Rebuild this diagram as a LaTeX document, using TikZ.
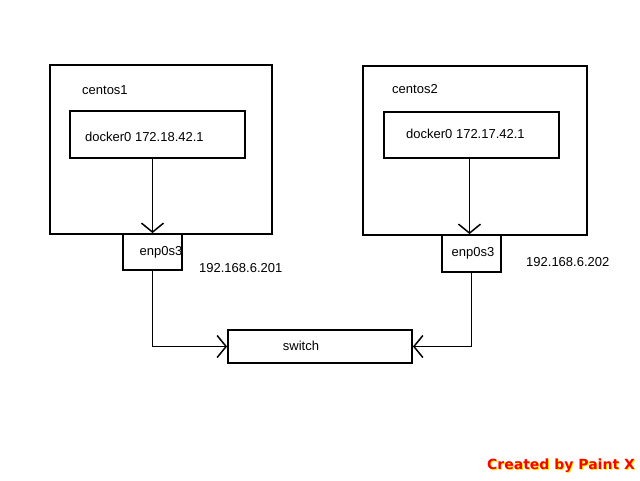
\documentclass[tikz,border=0pt]{standalone}
\usepackage{fontspec}
\setmainfont{Liberation Sans}
\newfontfamily\paintfont{DejaVu Sans}
\usetikzlibrary{arrows.meta,positioning}
\tikzset{>={Straight Barb[length=9pt,width=22pt,line width=1.5pt]}}
\tikzset{box/.style={draw,line width=1.8pt,inner sep=0pt},
  lbl/.style={inner sep=0pt,font=\fontsize{13}{15}\selectfont},
  wire/.style={line width=1.8pt}}

\begin{document}
\begin{tikzpicture}[x=1pt,y=-1pt]
\useasboundingbox (0,0) rectangle (640,480);
% hosts
\node[box,minimum width=222pt,minimum height=169pt] (centos1) at (161,149.5) {};
\node[box,minimum width=224pt,minimum height=169pt] (centos2) at (475,150.5) {};
\node[lbl,anchor=west] (name1) at (82,90) {centos1};
\node[lbl,anchor=west] (name2) at (392,89) {centos2};
% bridges
\node[box,minimum width=175pt,minimum height=47pt] (dock1) at (157.5,134.5) {};
\node[box,minimum width=175pt,minimum height=46pt] (dock2) at (471.5,135) {};
\node[lbl,anchor=west] (dtext1) at (85,137) {docker0 172.18.42.1};
\node[lbl,anchor=west] (dtext2) at (406,134) {docker0 172.17.42.1};
% nics
\node[box,minimum width=59pt,minimum height=36pt] (enp1) at (152.5,252) {};
\node[box,minimum width=59pt,minimum height=37pt] (enp2) at (471.5,253.5) {};
\node[lbl] (etext1) at (161,252) {enp0s3};
\node[lbl] (etext2) at (473,253) {enp0s3};
\node[lbl,anchor=west] (ip1) at (199,268) {192.168.6.201};
\node[lbl,anchor=west] (ip2) at (526,262) {192.168.6.202};
% switch
\node[box,minimum width=184pt,minimum height=33pt] (switch) at (320,346.5) {};
\node[lbl] (stext) at (301,346) {switch};
% links
\draw[wire,->] (enp1.north |- dock1.south) -- (enp1.north);
\draw[wire,->] ([xshift=-2pt]enp2.north |- dock2.south) -- ([xshift=-2pt]enp2.north);
\draw[wire,->] (enp1.south) |- (switch.west);
\draw[wire,->] (enp2.south) |- (switch.east);
% watermark
\node[inner sep=0pt,text=yellow,font=\paintfont\bfseries\fontsize{14}{16}\selectfont] (shadow) at (562,467) {Created by Paint X};
\node[inner sep=0pt,text=red,font=\paintfont\bfseries\fontsize{14}{16}\selectfont] (paintx) at (561,466) {Created by Paint X};
\end{tikzpicture}
\end{document}
